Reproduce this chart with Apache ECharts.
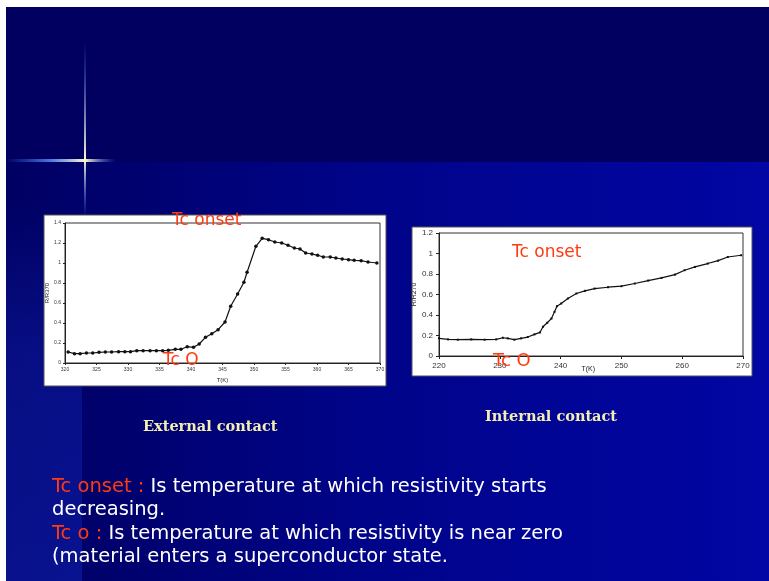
<!DOCTYPE html>
<html>
<head>
<meta charset="utf-8">
<script src="https://cdn.jsdelivr.net/npm/echarts@6/dist/echarts.min.js"></script>
<style>
  html, body { margin: 0; padding: 0; background: #fff; }
  #main { width: 769px; height: 581px; }
</style>
</head>
<body>
<div id="main"></div>
<script>
/*外接触：T(K) 与 R/R370*/
var extT = [320.5, 321.5, 322.4, 323.4, 324.4, 325.4, 326.4, 327.4, 328.5, 329.5, 330.4, 331.4, 332.4, 333.5, 334.5, 335.5, 336.4, 337.5, 338.4, 339.4, 340.4, 341.3, 342.3, 343.3, 344.3, 345.4, 346.3, 347.4, 348.4, 348.9, 350.3, 351.3, 352.3, 353.3, 354.4, 355.4, 356.4, 357.3, 358.2, 359.2, 360.1, 361.0, 362.1, 363.0, 364.0, 365.0, 365.9, 367.0, 368.1, 369.5];
var extR = [0.11, 0.093, 0.093, 0.10, 0.10, 0.107, 0.11, 0.11, 0.113, 0.113, 0.113, 0.123, 0.123, 0.123, 0.123, 0.123, 0.127, 0.137, 0.137, 0.163, 0.157, 0.19, 0.257, 0.293, 0.333, 0.41, 0.567, 0.69, 0.807, 0.907, 1.167, 1.247, 1.233, 1.21, 1.20, 1.177, 1.15, 1.14, 1.10, 1.09, 1.077, 1.06, 1.06, 1.05, 1.04, 1.033, 1.027, 1.023, 1.01, 1.0];

/*内接触：T(K) 与 R/R270*/
var intT = [220, 221.5, 223.1, 225.3, 227.5, 229.4, 230.5, 231.3, 232.4, 233.5, 234.6, 235.7, 236.6, 237.1, 237.8, 238.5, 239.0, 239.4, 240.1, 241.2, 242.6, 244.0, 245.6, 247.8, 250.0, 252.2, 254.4, 256.6, 258.8, 260.4, 262.1, 264.2, 265.9, 267.5, 269.7];
var intR = [0.172, 0.162, 0.159, 0.162, 0.159, 0.162, 0.178, 0.172, 0.159, 0.172, 0.185, 0.211, 0.23, 0.285, 0.324, 0.366, 0.431, 0.486, 0.512, 0.561, 0.61, 0.636, 0.658, 0.671, 0.681, 0.707, 0.736, 0.762, 0.794, 0.837, 0.869, 0.902, 0.93, 0.966, 0.983];

var extXTicks = [320, 325, 330, 335, 340, 345, 350, 355, 360, 365, 370];
var intXTicks = [220, 230, 240, 250, 260, 270];

var pairs = function (xs, ys){
  var out = [];
  for(var i = 0; i < xs.length; i++){
    out.push([xs[i], ys[i]]);
  }
  return out;
};

var redText = '#ff3a10';
var font = '"DejaVu Sans", Verdana, sans-serif';

var myChart = echarts.init(document.getElementById('main'));
var option = {
  backgroundColor: '#ffffff',
  animation: false,
  graphic: [
    /*幻灯片背景*/
    {type: 'rect', shape: {x: 6, y: 7, width: 763, height: 155}, z: -10,
      style: {fill: '#010060'}},
    {type: 'rect', shape: {x: 6, y: 162, width: 763, height: 419}, z: -10,
      style: {fill: new echarts.graphic.LinearGradient(0, 0, 1, 0, [
        {offset: 0, color: '#000062'},
        {offset: 0.5, color: '#00048a'},
        {offset: 1, color: '#0206a4'}
      ])}},
    {type: 'rect', shape: {x: 6, y: 200, width: 76, height: 381}, z: -9,
      style: {fill: new echarts.graphic.LinearGradient(0, 0, 0, 1, [
        {offset: 0, color: 'rgba(20,40,190,0)'},
        {offset: 0.4, color: 'rgba(20,40,190,0.35)'},
        {offset: 1, color: 'rgba(20,40,190,0.45)'}
      ])}},
    /*星光*/
    {type: 'rect', shape: {x: 6, y: 159, width: 110, height: 3}, z: -8,
      style: {fill: new echarts.graphic.LinearGradient(0, 0, 1, 0, [
        {offset: 0, color: 'rgba(60,120,255,0)'},
        {offset: 0.4, color: 'rgba(90,150,255,0.8)'},
        {offset: 0.72, color: 'rgba(255,250,200,1)'},
        {offset: 1, color: 'rgba(60,120,255,0)'}
      ])}},
    {type: 'rect', shape: {x: 84, y: 40, width: 2, height: 180}, z: -8,
      style: {fill: new echarts.graphic.LinearGradient(0, 0, 0, 1, [
        {offset: 0, color: 'rgba(60,120,255,0)'},
        {offset: 0.66, color: 'rgba(255,250,210,1)'},
        {offset: 1, color: 'rgba(60,120,255,0)'}
      ])}},
    /*白色图框*/
    {type: 'rect', shape: {x: 44, y: 215, width: 342, height: 171}, z: -5,
      style: {fill: '#ffffff', stroke: '#555555', lineWidth: 1}},
    {type: 'rect', shape: {x: 412, y: 227, width: 340, height: 149}, z: -5,
      style: {fill: '#ffffff', stroke: '#555555', lineWidth: 1}},
    /*注释文字*/
    {type: 'text', left: 172, top: 212, z: 20,
      style: {text: 'Tc onset', fill: redText, font: '17px ' + font}},
    {type: 'text', left: 163, top: 352, z: 20,
      style: {text: 'Tc O', fill: redText, font: '17px ' + font}},
    {type: 'text', left: 512, top: 244, z: 20,
      style: {text: 'Tc onset', fill: redText, font: '17px ' + font}},
    {type: 'text', left: 493, top: 352, z: 20,
      style: {text: 'Tc O', fill: redText, font: '18px ' + font}},
    {type: 'text', left: 143, top: 420, z: 20,
      style: {text: 'External contact', fill: '#f4eeb0', font: 'bold 14.5px "DejaVu Serif", serif'}},
    {type: 'text', left: 485, top: 410, z: 20,
      style: {text: 'Internal contact', fill: '#f4eeb0', font: 'bold 14.5px "DejaVu Serif", serif'}},
    /*底部说明*/
    {type: 'text', left: 52, top: 475, z: 20,
      style: {
        text: '{r|Tc onset :} Is temperature at which resistivity starts\ndecreasing.\n{r|Tc o :} Is temperature at which resistivity is near zero\n(material enters a superconductor state.',
        fill: '#ffffff', font: '19.5px ' + font, lineHeight: 23.5,
        rich: {r: {fill: redText, font: '19.5px ' + font}}
      }}
  ],
  grid: [
    {left: 65, top: 223, width: 315, height: 140, show: true, borderColor: '#333', borderWidth: 1},
    {left: 439, top: 233, width: 304, height: 123, show: true, borderColor: '#333', borderWidth: 1}
  ],
  xAxis: [
    {
      type: 'value', gridIndex: 0, min: 320, max: 370, interval: 5,
      name: 'T(K)', nameLocation: 'middle', nameGap: 14,
      nameTextStyle: {fontSize: 6, color: '#222'},
      axisLine: {lineStyle: {color: '#222'}},
      axisTick: {length: 2, lineStyle: {color: '#222'}},
      axisLabel: {fontSize: 5, color: '#333', margin: 4,
        formatter: function (v){ return extXTicks.indexOf(v) >= 0 ? v : ''; }},
      splitLine: {show: false}
    },
    {
      type: 'value', gridIndex: 1, min: 220, max: 270, interval: 10,
      name: 'T(K)', nameLocation: 'start', nameGap: -156,
      nameTextStyle: {fontSize: 7, color: '#222', padding: [10, 0, 0, 0], verticalAlign: 'top'},
      axisLine: {lineStyle: {color: '#222'}},
      axisTick: {length: 3, lineStyle: {color: '#222'}},
      axisLabel: {fontSize: 8, color: '#333', margin: 6,
        formatter: function (v){ return intXTicks.indexOf(v) >= 0 ? v : ''; }},
      splitLine: {show: false}
    }
  ],
  yAxis: [
    {
      type: 'value', gridIndex: 0, min: 0, max: 1.4, interval: 0.2,
      name: 'R/R370', nameLocation: 'middle', nameGap: 13,
      nameTextStyle: {fontSize: 6, color: '#222'},
      axisLine: {show: true, lineStyle: {color: '#222'}},
      axisTick: {show: true, length: 2, lineStyle: {color: '#222'}},
      axisLabel: {fontSize: 5, color: '#333', margin: 4,
        formatter: function (v){ return +v.toFixed(1); }},
      splitLine: {show: false}
    },
    {
      type: 'value', gridIndex: 1, min: 0, max: 1.2, interval: 0.2,
      name: 'R/R270', nameLocation: 'middle', nameGap: 17,
      nameTextStyle: {fontSize: 7, color: '#222'},
      axisLine: {show: true, lineStyle: {color: '#222'}},
      axisTick: {show: true, length: 3, lineStyle: {color: '#222'}},
      axisLabel: {fontSize: 8, color: '#333', margin: 6,
        formatter: function (v){ return +v.toFixed(1); }},
      splitLine: {show: false}
    }
  ],
  series: [
    {
      name: 'External contact',
      type: 'line',
      xAxisIndex: 0, yAxisIndex: 0,
      data: pairs(extT, extR),
      symbol: 'circle', symbolSize: 3.5,
      itemStyle: {color: '#111'},
      lineStyle: {color: '#111', width: 1.2}
    },
    {
      name: 'Internal contact',
      type: 'line',
      xAxisIndex: 1, yAxisIndex: 1,
      data: pairs(intT, intR),
      symbol: 'rect', symbolSize: 2,
      itemStyle: {color: '#111'},
      lineStyle: {color: '#111', width: 1.2}
    }
  ]
};

myChart.setOption(option);
</script>
</body>
</html>
